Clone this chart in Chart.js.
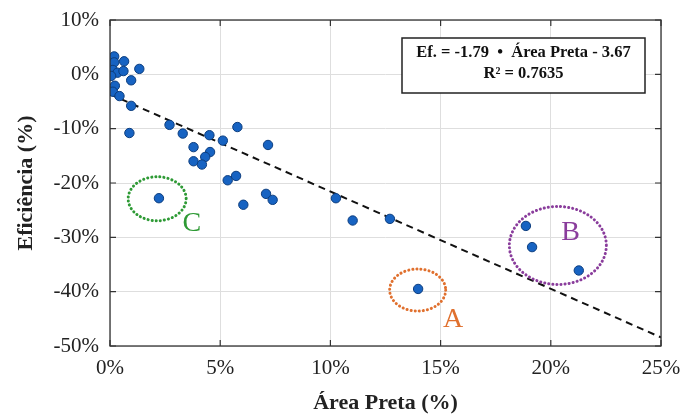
<!DOCTYPE html>
<html>
<head>
<meta charset="utf-8">
<script src="https://cdn.jsdelivr.net/npm/chart.js@4/dist/chart.umd.min.js"></script>
<style>
  html, body { margin: 0; padding: 0; background: #fff; }
  #wrap { width: 681px; height: 417px; position: relative; }
</style>
</head>
<body>
<div id="wrap"><canvas id="c" width="681" height="417"></canvas></div>
<script>
// ---- Data ----
const areaPreta = [0.19, 0.19, 0.64, 0.01, 0.13, 0.34, 0.61, 1.33, 0.96, 0.05, 0.22, 0.13, 0.43, 0.96,
  0.88, 2.70, 3.30, 4.51, 5.12, 5.78, 7.17, 3.79, 4.54, 4.32, 3.79, 4.17, 5.34, 5.72,
  2.22, 7.08, 7.38, 6.05, 10.25, 11.01, 12.70, 13.98, 18.87, 19.15, 21.27];
const eficiencia = [3.3, 2.2, 2.4, 0.3, 0.8, 0.3, 0.6, 1.0, -1.1, -0.3, -2.1, -3.2, -4.0, -5.8,
  -10.8, -9.3, -10.9, -11.2, -12.2, -9.7, -13.0, -13.4, -14.3, -15.2, -16.0, -16.6, -19.5, -18.7,
  -22.8, -22.0, -23.1, -24.0, -22.8, -26.9, -26.6, -39.5, -27.9, -31.8, -36.1];
const trendX = [0, 25];
const trendY = [-3.67, -48.42];
const xTicks = [0, 5, 10, 15, 20, 25];
const yTicks = [-50, -40, -30, -20, -10, 0, 10];
const groupLabels = ['A', 'B', 'C'];
const groupCenterX = [13.96, 20.32, 2.14];
const groupCenterY = [-39.7, -31.5, -22.9];
const groupLabelX = [15.57, 20.9, 3.71];
const groupLabelY = [-45.1, -29.2, -27.4];
const equationLines = ['Ef. = -1.79  \u2022  \u00c1rea Preta - 3.67', 'R\u00b2 = 0.7635'];

// ---- styles ----
const SERIF = '"Liberation Serif", "Times New Roman", serif';
const groupColors = ['#e0702e', '#8a3d9c', '#2e9a35'];
const groupRx = [28, 48.5, 29];
const groupRy = [21, 39, 22];

const points = areaPreta.map((x, i) => ({ x: x, y: eficiencia[i] }));
const trend = trendX.map((x, i) => ({ x: x, y: trendY[i] }));

const decorPlugin = {
  id: 'decor',
  beforeDatasetsDraw(chart) {
    const { ctx, chartArea: a, scales: { x, y } } = chart;
    ctx.save();
    ctx.strokeStyle = '#333';
    ctx.lineWidth = 1.2;
    xTicks.forEach(v => {
      const px = x.getPixelForValue(v);
      ctx.beginPath();
      ctx.moveTo(px, a.bottom); ctx.lineTo(px, a.bottom - 6);
      ctx.moveTo(px, a.top); ctx.lineTo(px, a.top + 6);
      ctx.stroke();
    });
    yTicks.forEach(v => {
      const py = y.getPixelForValue(v);
      ctx.beginPath();
      ctx.moveTo(a.left, py); ctx.lineTo(a.left + 6, py);
      ctx.moveTo(a.right, py); ctx.lineTo(a.right - 6, py);
      ctx.stroke();
    });
    ctx.restore();
  },
  afterDatasetsDraw(chart) {
    const { ctx, chartArea: a, scales: { x, y } } = chart;
    ctx.save();
    groupLabels.forEach((lab, i) => {
      const cx = x.getPixelForValue(groupCenterX[i]);
      const cy = y.getPixelForValue(groupCenterY[i]);
      ctx.strokeStyle = groupColors[i];
      ctx.lineWidth = 3;
      ctx.lineCap = 'round';
      ctx.setLineDash([0.1, 4]);
      ctx.beginPath();
      ctx.ellipse(cx, cy, groupRx[i], groupRy[i], 0, 0, Math.PI * 2);
      ctx.stroke();
      ctx.setLineDash([]);
      ctx.fillStyle = groupColors[i];
      ctx.font = '28px ' + SERIF;
      ctx.textAlign = 'center';
      ctx.textBaseline = 'middle';
      ctx.fillText(lab, x.getPixelForValue(groupLabelX[i]), y.getPixelForValue(groupLabelY[i]));
    });
    ctx.strokeStyle = '#333';
    ctx.lineWidth = 1.3;
    ctx.strokeRect(a.left, a.top, a.right - a.left, a.bottom - a.top);
    const bx = 402, by = 38, bw = 243, bh = 55;
    ctx.fillStyle = '#fff';
    ctx.fillRect(bx, by, bw, bh);
    ctx.strokeStyle = '#222';
    ctx.lineWidth = 1.5;
    ctx.strokeRect(bx, by, bw, bh);
    ctx.fillStyle = '#111';
    ctx.font = 'bold 16.5px ' + SERIF;
    ctx.textAlign = 'center';
    ctx.textBaseline = 'middle';
    ctx.fillText(equationLines[0], bx + bw / 2, by + 15);
    ctx.fillText(equationLines[1], bx + bw / 2, by + 36);
    ctx.restore();
  }
};

new Chart(document.getElementById('c'), {
  type: 'scatter',
  data: {
    datasets: [
      {
        type: 'line',
        data: trend,
        borderColor: '#111',
        borderWidth: 2,
        borderDash: [7, 5],
        pointRadius: 0,
        fill: false,
        order: 2
      },
      {
        data: points,
        backgroundColor: '#1763c2',
        borderColor: '#0c3d7e',
        borderWidth: 1,
        pointRadius: 4.7,
        order: 1
      }
    ]
  },
  options: {
    responsive: false,
    animation: false,
    devicePixelRatio: 1,
    layout: { padding: { top: 20, right: 20, left: 0, bottom: 0 } },
    plugins: { legend: { display: false }, tooltip: { enabled: false } },
    scales: {
      x: {
        type: 'linear',
        min: 0, max: 25,
        afterBuildTicks: s => { s.ticks = xTicks.map(v => ({ value: v })); },
        afterFit: s => { s.height = 71; s.paddingLeft = 0; s.paddingRight = 0; },
        grid: { color: '#dedede', lineWidth: 1, drawTicks: false },
        border: { display: false },
        ticks: {
          padding: 10,
          color: '#222',
          font: { family: SERIF, size: 21 },
          callback: v => v + '%'
        },
        title: {
          display: true,
          text: '\u00c1rea Preta (%)',
          color: '#222',
          font: { family: SERIF, size: 22, weight: 'bold' },
          padding: { top: 2, bottom: 0 }
        }
      },
      y: {
        type: 'linear',
        min: -50, max: 10,
        afterBuildTicks: s => { s.ticks = yTicks.map(v => ({ value: v })); },
        afterFit: s => { s.width = 110; s.paddingTop = 0; s.paddingBottom = 0; },
        grid: { color: '#dedede', lineWidth: 1, drawTicks: false },
        border: { display: false },
        ticks: {
          padding: 11,
          color: '#222',
          font: { family: SERIF, size: 21 },
          callback: v => v + '%'
        },
        title: {
          display: true,
          text: 'Efici\u00eancia (%)',
          color: '#222',
          font: { family: SERIF, size: 22, weight: 'bold' },
          padding: { top: 13, bottom: 4 }
        }
      }
    }
  },
  plugins: [decorPlugin]
});
</script>
</body>
</html>
